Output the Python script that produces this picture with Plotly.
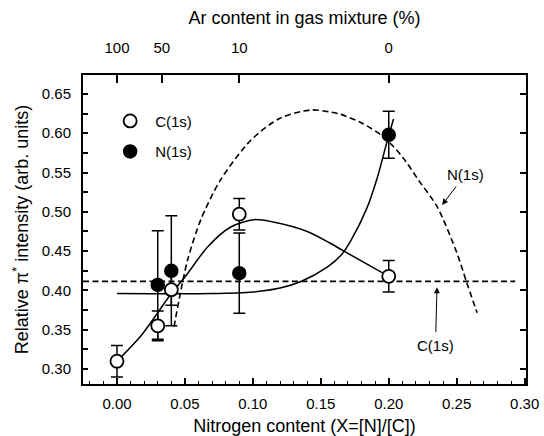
import plotly.graph_objects as go

# Measured pi* intensities with error bars
x_c = [0.00, 0.03, 0.04, 0.09, 0.20]
y_c = [0.310, 0.355, 0.401, 0.497, 0.418]
err_c = [0.020, 0.019, 0.020, 0.020, 0.020]

x_n = [0.03, 0.04, 0.09, 0.20]
y_n = [0.407, 0.425, 0.422, 0.598]
err_n = [0.069, 0.070, 0.051, 0.030]

# Guide curves through the data (solid)
c_fit_x = [0.000, 0.018, 0.040, 0.050, 0.067, 0.084, 0.101, 0.115, 0.140, 0.157, 0.167, 0.200]
c_fit_y = [0.310, 0.343, 0.396, 0.417, 0.456, 0.481, 0.490, 0.487, 0.475, 0.460, 0.450, 0.418]

n_fit_x = [0.000, 0.070, 0.100, 0.120, 0.135, 0.155, 0.165, 0.172, 0.184, 0.1915, 0.1976, 0.2005, 0.2035]
n_fit_y = [0.396, 0.396, 0.398, 0.403, 0.411, 0.430, 0.445, 0.463, 0.505, 0.543, 0.582, 0.600, 0.618]

# Model curves (dashed)
n_model_x = [0.042, 0.0457, 0.052, 0.0617, 0.076, 0.0985, 0.120, 0.1425, 0.157, 0.1646, 0.180, 0.196, 0.210, 0.222, 0.2356, 0.2503, 0.2571, 0.265]
n_model_y = [0.354, 0.388, 0.439, 0.490, 0.540, 0.591, 0.619, 0.6295, 0.627, 0.624, 0.613, 0.5955, 0.570, 0.540, 0.5065, 0.447, 0.4115, 0.3716]

c_model_x = [-0.025, 0.293]
c_model_y = [0.4115, 0.4115]

# Top axis: Ar content of the gas mixture
ar_pos = [0.00, 0.033, 0.09, 0.20]
ar_text = ["100", "50", "10", "0"]

x_range = [-0.025, 0.301]
y_range = [0.281, 0.674]

font_family = "Liberation Sans, Arial, sans-serif"

fig = go.Figure()

fig.add_trace(go.Scatter(x=c_model_x, y=c_model_y, mode="lines",
                         line=dict(color="black", width=1.6, dash="6px,3.5px"),
                         showlegend=False, hoverinfo="skip"))
fig.add_trace(go.Scatter(x=n_model_x, y=n_model_y, mode="lines",
                         line=dict(color="black", width=1.6, dash="6px,3.5px", shape="spline", smoothing=0.8),
                         showlegend=False, hoverinfo="skip"))
fig.add_trace(go.Scatter(x=c_fit_x, y=c_fit_y, mode="lines",
                         line=dict(color="black", width=1.5, shape="spline", smoothing=0.8),
                         showlegend=False, hoverinfo="skip"))
fig.add_trace(go.Scatter(x=n_fit_x, y=n_fit_y, mode="lines",
                         line=dict(color="black", width=1.5, shape="spline", smoothing=0.8),
                         showlegend=False, hoverinfo="skip"))

fig.add_trace(go.Scatter(
    x=x_n, y=y_n, mode="markers", name="N(1s)", legendgroup="n", legendrank=2,
    marker=dict(symbol="circle", size=13, color="black", line=dict(color="black", width=1.5)),
    error_y=dict(type="data", array=err_n, color="black", thickness=1.5, width=6),
))
fig.add_trace(go.Scatter(
    x=x_c, y=y_c, mode="markers", name="C(1s)", legendgroup="c", legendrank=1,
    marker=dict(symbol="circle", size=13, color="white", line=dict(color="black", width=1.8)),
    error_y=dict(type="data", array=err_c, color="black", thickness=1.5, width=6),
))

# carrier for the top and right-hand axes
fig.add_trace(go.Scatter(x=[0.1], y=[0.5], xaxis="x2", yaxis="y2", mode="markers",
                         marker=dict(opacity=0), showlegend=False, hoverinfo="skip"))

# Labels of the model curves, each with an arrow pointing at its curve
label_font = dict(size=15, color="black", family=font_family)
fig.add_annotation(x=0.2393, y=0.5087, ax=0.2564, ay=0.548, axref="x", ayref="y",
                   text="N(1s)", showarrow=True, arrowhead=2, arrowsize=1.2, arrowwidth=1,
                   arrowcolor="black", standoff=0, startstandoff=3, font=label_font)
fig.add_annotation(x=0.2355, y=0.404, ax=0.2344, ay=0.3305, axref="x", ayref="y",
                   text="C(1s)", showarrow=True, arrowhead=2, arrowsize=1.2, arrowwidth=1,
                   arrowcolor="black", standoff=0, startstandoff=3, font=label_font)

fig.update_layout(
    width=544, height=436,
    margin=dict(l=83, r=18, t=75, b=52, autoexpand=False),
    paper_bgcolor="white", plot_bgcolor="white",
    font=dict(family=font_family, size=15, color="black"),
    showlegend=True,
    legend=dict(x=0.05, y=0.904, xanchor="left", yanchor="top", traceorder="grouped",
                tracegroupgap=8, bgcolor="rgba(0,0,0,0)", font=dict(size=15), itemwidth=40),
    xaxis=dict(
        range=x_range, showgrid=False, zeroline=False, automargin=False,
        showline=True, linecolor="black", linewidth=2, mirror=True,
        ticks="inside", ticklen=6, tickwidth=1.5, tickcolor="black",
        tick0=0, dtick=0.05, tickformat=".2f",
        minor=dict(dtick=0.01, ticks="inside", ticklen=3, tickwidth=1.2, tickcolor="black"),
        title=dict(text="Nitrogen content (X=[N]/[C])", standoff=8),
        ticklabelstandoff=5,
    ),
    yaxis=dict(
        range=y_range, showgrid=False, zeroline=False, automargin=False,
        showline=True, linecolor="black", linewidth=2, mirror=True,
        ticks="inside", ticklen=5, tickwidth=1.5, tickcolor="black",
        tick0=0.30, dtick=0.05, tickformat=".2f",
        minor=dict(dtick=0.025, ticks="inside", ticklen=5, tickwidth=1.5, tickcolor="black"),
        title=dict(text="Relative π<sup>*</sup> intensity (arb. units)", standoff=8),
        ticklabelstandoff=7,
    ),
    xaxis2=dict(
        overlaying="x", side="top", anchor="y", range=x_range, automargin=False,
        showgrid=False, zeroline=False, showline=False,
        ticks="inside", ticklen=8, tickwidth=1.5, tickcolor="black",
        tickvals=ar_pos, ticktext=ar_text,
        title=dict(text="Ar content in gas mixture (%)", standoff=9),
        ticklabelstandoff=18,
    ),
    yaxis2=dict(
        overlaying="y", side="right", anchor="x", range=y_range, automargin=False,
        showgrid=False, zeroline=False, showline=False,
        ticks="inside", ticklen=6, tickwidth=1.5, tickcolor="black",
        tickvals=[0.30 + 0.05 * i for i in range(8)], showticklabels=False,
    ),
)

fig.write_html("out.html")
